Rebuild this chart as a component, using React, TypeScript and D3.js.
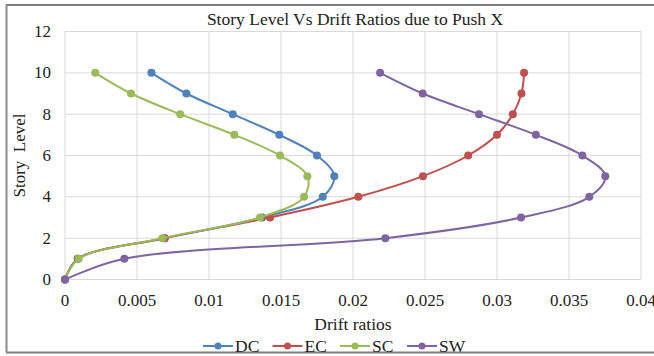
import React from 'react';
import * as d3 from 'd3';

const levels = [0, 1, 2, 3, 4, 5, 6, 7, 8, 9, 10];
const dcDrift = [0, 0.00088, 0.00694, 0.0137, 0.0179, 0.0187, 0.0175, 0.01488, 0.01165, 0.00843, 0.006];
const ecDrift = [0, 0.0009, 0.0069, 0.01424, 0.02037, 0.02486, 0.028, 0.03, 0.0311, 0.0317, 0.03188];
const scDrift = [0, 0.00095, 0.00676, 0.01354, 0.0166, 0.01683, 0.01493, 0.01176, 0.008, 0.00458, 0.0021];
const swDrift = [0, 0.00412, 0.02225, 0.03167, 0.03641, 0.03752, 0.03593, 0.0327, 0.02875, 0.02484, 0.02188];

const seriesNames = ['DC', 'EC', 'SC', 'SW'];
const seriesColors = ['#4F81BD', '#C0504D', '#9BBB59', '#8064A2'];
const xTicks = [0, 0.005, 0.01, 0.015, 0.02, 0.025, 0.03, 0.035, 0.04];
const yTicks = [0, 2, 4, 6, 8, 10, 12];

const W = 654;
const H = 356;
const font = '"Liberation Serif", "Times New Roman", serif';

export default function App() {
  const x = d3.scaleLinear().domain([0, 0.04]).range([65, 641]);
  const y = d3.scaleLinear().domain([0, 12]).range([279.5, 31.5]);

  const allSeries = [dcDrift, ecDrift, scDrift, swDrift].map((vals, i) => ({
    name: seriesNames[i],
    color: seriesColors[i],
    pts: vals.map((v, j) => [v, levels[j]] as [number, number]),
  }));

  const line = d3
    .line<[number, number]>()
    .x(d => x(d[0]))
    .y(d => y(d[1]))
    .curve(d3.curveCatmullRom.alpha(0.5));

  const legendX = [203, 272.5, 340, 407];

  return (
    <div style={{ position: 'absolute', left: 0, top: 0 }}>
      <svg width={W} height={H} style={{ display: 'block', background: '#fff' }} fontFamily={font}>
        <rect x={0} y={0} width={W} height={H} fill="#fff" />
        {/* outer frame */}
        <line x1={6} x2={W} y1={5} y2={5} stroke="#7f7f7f" strokeWidth={2} />
        <line x1={6} x2={W} y1={352.5} y2={352.5} stroke="#7f7f7f" strokeWidth={2} />
        <line x1={6.5} x2={6.5} y1={5} y2={352.5} stroke="#8c8c8c" strokeWidth={2} />

        <text x={355} y={25} textAnchor="middle" fontSize={17.5} fill="#222">
          Story Level Vs Drift Ratios due to Push X
        </text>

        {/* grid */}
        {xTicks.map(t => (
          <line key={'gx' + t} x1={x(t)} x2={x(t)} y1={y(12)} y2={y(0)} stroke="#d9d9d9" strokeWidth={1} />
        ))}
        {yTicks.map(t => (
          <line key={'gy' + t} x1={x(0)} x2={x(0.04)} y1={y(t)} y2={y(t)} stroke="#d9d9d9" strokeWidth={1} />
        ))}

        {/* tick labels */}
        {xTicks.map(t => (
          <text key={'tx' + t} x={x(t)} y={305.5} textAnchor="middle" fontSize={17} fill="#222">
            {String(t)}
          </text>
        ))}
        {yTicks.map(t => (
          <text key={'ty' + t} x={51} y={y(t) + 5.5} textAnchor="end" fontSize={17} fill="#222">
            {t}
          </text>
        ))}

        <text x={353} y={330} textAnchor="middle" fontSize={17.5} fill="#222">
          Drift ratios
        </text>
        <text
          transform={`translate(25,${(y(0) + y(12)) / 2}) rotate(-90)`}
          textAnchor="middle"
          fontSize={17}
          fill="#222"
          xmlSpace="preserve"
        >
          Story  Level
        </text>

        {/* series */}
        {allSeries.map(s => (
          <g key={s.name}>
            <path d={line(s.pts) || ''} fill="none" stroke={s.color} strokeWidth={2} />
            {s.pts.map((p, j) => (
              <circle key={j} cx={x(p[0])} cy={y(p[1])} r={4} fill={s.color} />
            ))}
          </g>
        ))}

        {/* legend */}
        {allSeries.map((s, i) => (
          <g key={'lg' + s.name} transform={`translate(${legendX[i]},346)`}>
            <line x1={0} x2={30} y1={0} y2={0} stroke={s.color} strokeWidth={2} />
            <circle cx={15} cy={0} r={3.5} fill={s.color} />
            <text x={32} y={5.5} fontSize={17.5} fill="#222">
              {s.name}
            </text>
          </g>
        ))}
      </svg>
    </div>
  );
}
